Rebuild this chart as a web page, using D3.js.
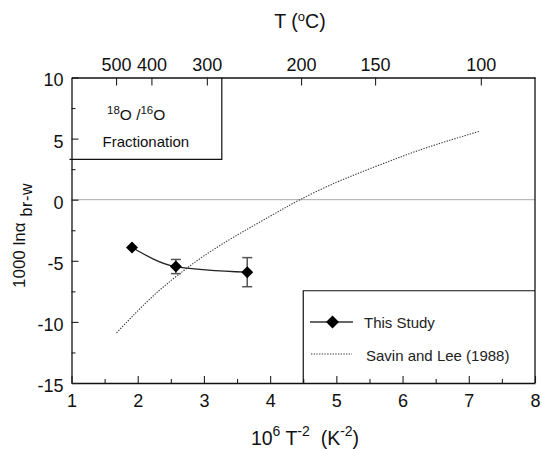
<!DOCTYPE html>
<html>
<head>
<meta charset="utf-8">
<script src="https://cdn.jsdelivr.net/npm/d3@7"></script>
<style>
  html, body { margin: 0; padding: 0; background: #fff; }
  svg { display: block; font-family: "Liberation Sans", Arial, sans-serif; }
</style>
</head>
<body>
<svg id="chart" width="542" height="449"></svg>
<script>
// Brucite-water oxygen isotope fractionation (this study)
const studyX = [1.914, 2.576, 3.654];
const studyY = [-3.91, -5.47, -5.93];
const studyErr = [0, 0.58, 1.19];

// Savin and Lee (1988) calibration curve
const savinX = [1.68, 2.0, 2.3, 2.6, 3.0, 3.5, 4.0, 4.45, 5.0, 5.5, 6.0, 6.5, 7.16];
const savinY = [-10.9, -9.1, -7.55, -6.2, -4.6, -2.9, -1.35, 0.0, 1.42, 2.52, 3.56, 4.5, 5.6];

// Axis ticks
const xMajorTicks = [1, 2, 3, 4, 5, 6, 7, 8];
const xMinorTicks = [1.5, 2.5, 3.5, 4.5, 5.5, 6.5, 7.5];
const yMajorTicks = [-15, -10, -5, 0, 5, 10];
const yMinorTicks = [-12.5, -7.5, -2.5, 2.5, 7.5];
const tempTicksC = [500, 400, 300, 200, 150, 100];

const svg = d3.select("#chart");
const L = 71.5, R = 535, T = 77.5, B = 383;

const x = d3.scaleLinear().domain([1, 8]).range([L, R]);
const y = d3.scaleLinear().domain([-15, 10]).range([B, T]);
const invT2 = c => 1e6 / Math.pow(c + 273.15, 2);
const plain = d => String(d);

// zero line
svg.append("line")
  .attr("x1", x(1)).attr("x2", x(8)).attr("y1", y(0)).attr("y2", y(0))
  .attr("stroke", "#a8a8a8").attr("stroke-width", 1);

// bottom axis: labelled integers, inward ticks
const gB = svg.append("g").attr("transform", `translate(0,${B})`)
  .call(d3.axisBottom(x).tickValues(xMajorTicks).tickSizeInner(-7).tickSizeOuter(0).tickPadding(11.5).tickFormat(plain));
const gBm = svg.append("g").attr("transform", `translate(0,${B})`)
  .call(d3.axisBottom(x).tickValues(xMinorTicks).tickSizeInner(-4).tickSizeOuter(0).tickFormat(""));
gBm.select(".domain").remove();

// left axis
const gL = svg.append("g").attr("transform", `translate(${L},0)`)
  .call(d3.axisLeft(y).tickValues(yMajorTicks).tickSizeInner(-7).tickSizeOuter(0).tickPadding(8).tickFormat(plain));
gL.selectAll("text").attr("dy", "0.47em");
const gLm = svg.append("g").attr("transform", `translate(${L},0)`)
  .call(d3.axisLeft(y).tickValues(yMinorTicks).tickSizeInner(-4).tickSizeOuter(0).tickFormat(""));
gLm.select(".domain").remove();

// top axis in degrees Celsius
const gT = svg.append("g").attr("transform", `translate(0,${T})`)
  .call(d3.axisTop(x).tickValues(tempTicksC.map(invT2)).tickSizeInner(-8).tickSizeOuter(0).tickPadding(6.5)
    .tickFormat((d, i) => tempTicksC[i]));

[gB, gL, gT].forEach(g => {
  g.selectAll("text").attr("font-size", 18).attr("fill", "#111")
    .attr("font-family", "'Liberation Sans', Arial, sans-serif");
});
svg.selectAll(".domain").attr("stroke", "#111").attr("stroke-width", 1.3);
svg.selectAll(".tick line").attr("stroke", "#222").attr("stroke-width", 1.1);

// right frame
svg.append("line").attr("x1", R).attr("x2", R).attr("y1", T).attr("y2", B)
  .attr("stroke", "#111").attr("stroke-width", 1.3);

// inset label box
svg.append("path")
  .attr("d", `M${x(3.27)},${T} V${y(3.3)} H${L - 2}`)
  .attr("fill", "none").attr("stroke", "#111").attr("stroke-width", 1.2);
const t1 = svg.append("text").attr("x", 107).attr("y", 120).attr("font-size", 15.5).attr("fill", "#111");
t1.append("tspan").attr("font-size", 11.5).attr("dy", -6).text("18");
t1.append("tspan").attr("dy", 6).text("O /");
t1.append("tspan").attr("font-size", 11.5).attr("dy", -6).text("16");
t1.append("tspan").attr("dy", 6).text("O");
svg.append("text").attr("x", 102.5).attr("y", 146.5).attr("font-size", 15).attr("fill", "#111")
  .text("Fractionation");

// Savin and Lee (1988) curve
svg.append("path")
  .datum(savinX.map((d, i) => [d, savinY[i]]))
  .attr("d", d3.line().x(d => x(d[0])).y(d => y(d[1])).curve(d3.curveNatural))
  .attr("fill", "none").attr("stroke", "#333").attr("stroke-width", 1.1)
  .attr("stroke-dasharray", "1.3,1.4");

// this study: connecting curve
const pts = studyX.map((d, i) => ({ x: d, y: studyY[i], e: studyErr[i] }));
svg.append("path")
  .datum(pts)
  .attr("d", d3.line().x(d => x(d.x)).y(d => y(d.y)).curve(d3.curveMonotoneX))
  .attr("fill", "none").attr("stroke", "#222").attr("stroke-width", 1.3);

// error bars
const eb = svg.append("g").attr("stroke", "#555").attr("stroke-width", 1.5);
pts.filter(d => d.e > 0).forEach(d => {
  eb.append("line").attr("x1", x(d.x)).attr("x2", x(d.x)).attr("y1", y(d.y - d.e)).attr("y2", y(d.y + d.e));
  [d.y - d.e, d.y + d.e].forEach(v => {
    eb.append("line").attr("x1", x(d.x) - 5).attr("x2", x(d.x) + 5).attr("y1", y(v)).attr("y2", y(v));
  });
});

// diamonds
const diamond = s => `M0,${-s} L${s},0 L0,${s} L${-s},0 Z`;
svg.append("g").selectAll("path").data(pts).join("path")
  .attr("transform", d => `translate(${x(d.x)},${y(d.y)})`)
  .attr("d", diamond(6)).attr("fill", "#000");

// legend box
svg.append("path")
  .attr("d", `M${x(4.5)},${B} V${y(-7.45)} H${R}`)
  .attr("fill", "none").attr("stroke", "#111").attr("stroke-width", 1.2);
svg.append("line").attr("x1", 310).attr("x2", 353).attr("y1", 322).attr("y2", 322)
  .attr("stroke", "#333").attr("stroke-width", 1.4);
svg.append("path").attr("transform", "translate(332.5,322)").attr("d", diamond(6.5)).attr("fill", "#000");
svg.append("text").attr("x", 364).attr("y", 327.5).attr("font-size", 15).attr("fill", "#222").text("This Study");
svg.append("line").attr("x1", 311).attr("x2", 352).attr("y1", 354).attr("y2", 354)
  .attr("stroke", "#333").attr("stroke-width", 1.1).attr("stroke-dasharray", "1.3,1.4");
svg.append("text").attr("x", 366).attr("y", 360.5).attr("font-size", 15).attr("fill", "#222").text("Savin and Lee (1988)");

// axis titles
const xt = svg.append("text").attr("x", 305).attr("y", 445).attr("text-anchor", "middle")
  .attr("font-size", 19.5).attr("fill", "#111").attr("xml:space", "preserve");
xt.append("tspan").text("10");
xt.append("tspan").attr("font-size", 14).attr("dy", -9).text("6");
xt.append("tspan").attr("dy", 9).text(" T");
xt.append("tspan").attr("font-size", 14).attr("dy", -9).text("-2");
xt.append("tspan").attr("dy", 9).text("  (K");
xt.append("tspan").attr("font-size", 14).attr("dy", -9).text("-2");
xt.append("tspan").attr("dy", 9).text(")");

const tt = svg.append("text").attr("x", 300).attr("y", 28).attr("text-anchor", "middle")
  .attr("font-size", 19.5).attr("fill", "#111");
tt.append("tspan").text("T (");
tt.append("tspan").attr("font-size", 13).attr("dy", -7).text("o");
tt.append("tspan").attr("dy", 7).text("C)");

const yt = svg.append("text").attr("transform", "translate(25,288) rotate(-90)")
  .attr("font-size", 17).attr("fill", "#111");
yt.append("tspan").text("1000 ln\u03b1");
yt.append("tspan").attr("dx", 6).attr("dy", 7).attr("font-size", 16).attr("letter-spacing", 0.6).text("br-w");
</script>
</body>
</html>
